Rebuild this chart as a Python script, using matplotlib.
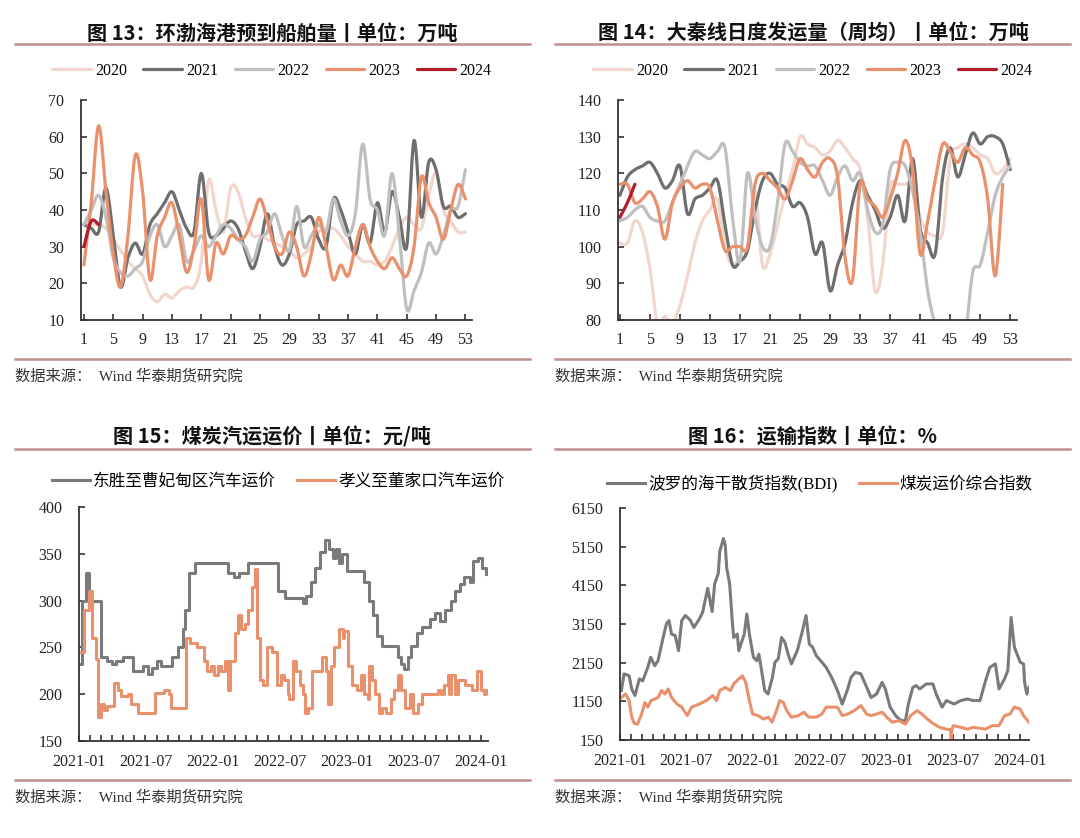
import numpy as np
import pandas as pd
import matplotlib
matplotlib.use('Agg')
import matplotlib.pyplot as plt
import matplotlib.dates as mdates
from matplotlib.lines import Line2D
from matplotlib.font_manager import FontProperties

W, H = 1080, 838

# ---------- 图13 环渤海港预到船舶量 (周) ----------
bh_2020 = [36, 36, 36, 35, 32, 29, 26, 24, 22, 17, 15, 17, 16, 18, 19, 19, 26, 48, 40, 34,
           46, 45, 38, 33, 33, 32, 31, 30, 29, 27, 28, 30, 34, 35, 35, 33, 30, 28, 26, 26,
           25, 26, 30, 35, 38, 36, 35, 44, 50, 40, 37, 34, 34]
bh_2021 = [36, 35, 34, 46, 33, 19, 27, 31, 28, 36, 39, 42, 45, 40, 35, 34, 50, 34, 33, 35,
           37, 35, 29, 24, 30, 39, 30, 25, 28, 36, 37, 38, 32, 30, 43, 40, 34, 28, 36, 31,
           42, 34, 45, 38, 30, 59, 38, 53, 51, 41, 41, 38, 39]
bh_2022 = [36, 40, 44, 38, 27, 23, 22, 24, 26, 33, 36, 30, 33, 36, 26, 29, 33, 30, 33, 36,
           35, 32, 30, 26, 32, 34, 39, 33, 29, 41, 30, 33, 36, 34, 43, 37, 33, 39, 58, 43,
           40, 33, 50, 33, 13, 18, 23, 31, 28, 33, 40, 41, 51]
bh_2023 = [25, 42, 63, 45, 28, 19, 33, 55, 45, 21, 33, 38, 42, 33, 23, 30, 43, 21, 31, 28,
           33, 32, 33, 38, 43, 37, 30, 28, 34, 30, 22, 28, 38, 30, 21, 25, 22, 30, 36, 30,
           26, 24, 27, 24, 22, 30, 49, 42, 38, 32, 40, 47, 43]
bh_2024 = [30, 37, 36]

# ---------- 图14 大秦线日度发运量 (周均) ----------
dq_2020 = [101, 101, 107, 104, 94, 79, 81, 79, 84, 92, 101, 107, 110, 113, 100, 95, 97, 99, 115, 95,
           98, 106, 114, 121, 130, 128, 127, 125, 126, 129, 127, 124, 121, 108, 88, 95, 116, 117, 117, 117,
           108, 104, 103, 104, 124, 127, 128, 127, 125, 124, 120, 121, 124]
dq_2021 = [114, 119, 121, 122, 123, 120, 116, 118, 122, 109, 113, 114, 116, 118, 106, 95, 96, 99, 110, 118,
           120, 117, 116, 111, 112, 108, 98, 101, 88, 95, 101, 112, 118, 114, 110, 105, 108, 114, 107, 124,
           105, 101, 98, 119, 127, 119, 125, 131, 128, 130, 130, 128, 121]
dq_2022 = [107, 108, 110, 111, 108, 107, 107, 112, 117, 122, 126, 125, 124, 126, 127, 108, 96, 120, 108, 100,
           100, 112, 128, 126, 123, 122, 122, 118, 114, 119, 122, 118, 120, 110, 104, 106, 121, 123, 122, 115,
           104, 88, 78, 65, 60, 64, 75, 93, 95, 104, 114, 119, 122]
dq_2023 = [117, 117, 112, 113, 115, 111, 102, 112, 116, 118, 116, 117, 116, 107, 99, 100, 100, 100, 117, 120,
           118, 116, 113, 118, 124, 121, 119, 123, 124, 119, 97, 91, 117, 113, 111, 108, 113, 120, 129, 121,
           98, 107, 118, 128, 126, 123, 127, 125, 123, 113, 92, 117]
dq_2024 = [108, 112, 117]

year_labels = ['2020', '2021', '2022', '2023', '2024']
year_colors = ['#f2d6cd', '#6e6e6e', '#bfbfbf', '#e8916c', '#b31b2e']

# ---------- 图15 煤炭汽运运价 (阶梯) ----------
ds_dates = ['2021-01-01', '2021-01-10', '2021-01-19', '2021-01-28', '2021-02-04', '2021-03-01', '2021-03-17',
            '2021-04-01', '2021-04-13', '2021-05-01', '2021-05-28', '2021-06-25', '2021-07-07', '2021-07-19',
            '2021-08-01', '2021-08-13', '2021-09-10', '2021-09-28', '2021-10-10', '2021-10-16', '2021-10-28',
            '2021-11-13', '2022-02-12', '2022-02-27', '2022-03-14', '2022-04-06', '2022-06-28', '2022-07-16',
            '2022-09-04', '2022-09-10', '2022-09-25', '2022-10-07', '2022-10-19', '2022-11-01', '2022-11-13',
            '2022-11-25', '2022-12-01', '2022-12-10', '2022-12-19', '2023-01-01', '2023-02-16', '2023-03-02',
            '2023-03-13', '2023-03-25', '2023-04-06', '2023-05-19', '2023-05-28', '2023-06-04', '2023-06-16',
            '2023-06-25', '2023-07-10', '2023-07-25', '2023-08-16', '2023-08-28', '2023-09-12', '2023-09-25',
            '2023-10-10', '2023-10-22', '2023-11-04', '2023-11-16', '2023-12-01', '2023-12-10', '2023-12-25',
            '2024-01-03', '2024-01-15']
ds_price = [232, 300, 330, 310, 300, 240, 235, 232, 235, 240, 225, 230, 222, 228, 235, 230, 240, 250, 270,
            290, 330, 340, 330, 325, 330, 340, 310, 303, 297, 305, 320, 335, 352, 365, 355, 345, 355, 340,
            350, 332, 320, 300, 285, 262, 252, 240, 232, 227, 240, 252, 265, 272, 280, 287, 278, 290, 300,
            310, 318, 325, 320, 342, 345, 335, 328]

xy_dates = ['2021-01-01', '2021-01-15', '2021-01-27', '2021-02-06', '2021-02-15', '2021-02-23', '2021-03-01',
            '2021-03-09', '2021-03-18', '2021-04-07', '2021-04-16', '2021-04-25', '2021-05-14', '2021-05-23',
            '2021-06-11', '2021-07-28', '2021-08-20', '2021-09-04', '2021-09-08', '2021-10-20', '2021-10-30',
            '2021-11-18', '2021-12-07', '2021-12-16', '2021-12-26', '2022-01-05', '2022-01-14', '2022-01-23',
            '2022-02-02', '2022-02-11', '2022-02-16', '2022-03-01', '2022-03-09', '2022-03-18', '2022-03-28',
            '2022-04-07', '2022-04-16', '2022-04-25', '2022-04-30', '2022-05-09', '2022-05-18', '2022-05-28',
            '2022-06-11', '2022-06-25', '2022-07-04', '2022-07-14', '2022-07-23', '2022-07-28', '2022-08-06',
            '2022-08-16', '2022-08-25', '2022-09-04', '2022-09-09', '2022-09-18', '2022-09-27', '2022-10-25',
            '2022-11-04', '2022-11-09', '2022-11-18', '2022-11-27', '2022-12-11', '2022-12-20', '2022-12-25',
            '2023-01-05', '2023-01-14', '2023-01-28', '2023-02-07', '2023-02-16', '2023-02-26', '2023-03-01',
            '2023-03-10', '2023-03-19', '2023-03-28', '2023-04-07', '2023-04-16', '2023-04-30', '2023-05-09',
            '2023-05-19', '2023-05-28', '2023-06-07', '2023-06-21', '2023-06-30', '2023-07-14', '2023-07-23',
            '2023-09-05', '2023-09-14', '2023-09-23', '2023-10-02', '2023-10-07', '2023-10-12', '2023-10-21',
            '2023-10-31', '2023-11-18', '2023-12-07', '2023-12-21', '2023-12-31', '2024-01-09', '2024-01-15']
xy_price = [245, 290, 310, 260, 238, 176, 190, 183, 187, 212, 205, 198, 200, 190, 180, 201, 205, 200, 185,
            260, 255, 250, 235, 225, 230, 220, 230, 225, 235, 205, 235, 265, 285, 270, 275, 290, 315, 334,
            260, 215, 210, 250, 245, 210, 220, 215, 200, 195, 235, 225, 210, 200, 180, 185, 225, 240, 225,
            190, 230, 250, 270, 260, 268, 230, 210, 205, 220, 200, 195, 230, 215, 200, 180, 185, 180, 195,
            205, 220, 205, 185, 200, 180, 190, 200, 205, 200, 210, 220, 200, 220, 200, 215, 210, 205, 225,
            205, 200, 205]

# ---------- 图16 运输指数 ----------
bdi_dates = ['2021-01-05', '2021-01-12', '2021-01-26', '2021-02-02', '2021-02-11', '2021-02-23', '2021-03-04',
             '2021-03-18', '2021-03-26', '2021-04-06', '2021-04-15', '2021-04-29', '2021-05-08', '2021-05-15',
             '2021-05-22', '2021-06-01', '2021-06-10', '2021-06-19', '2021-06-29', '2021-07-13', '2021-07-22',
             '2021-08-06', '2021-08-15', '2021-08-29', '2021-09-10', '2021-09-17', '2021-09-27', '2021-10-01',
             '2021-10-11', '2021-10-16', '2021-10-20', '2021-10-28', '2021-11-04', '2021-11-08', '2021-11-18',
             '2021-11-22', '2021-12-07', '2021-12-14', '2021-12-21', '2022-01-01', '2022-01-10', '2022-01-16',
             '2022-01-22', '2022-02-01', '2022-02-10', '2022-02-22', '2022-03-01', '2022-03-10', '2022-03-19',
             '2022-03-28', '2022-04-06', '2022-04-15', '2022-05-01', '2022-05-13', '2022-05-25', '2022-06-03',
             '2022-06-12', '2022-06-22', '2022-07-04', '2022-07-19', '2022-08-03', '2022-08-19', '2022-09-01',
             '2022-09-16', '2022-09-25', '2022-10-07', '2022-10-22', '2022-11-07', '2022-11-19', '2022-12-04',
             '2022-12-19', '2022-12-28', '2023-01-10', '2023-01-25', '2023-02-09', '2023-02-21', '2023-03-01',
             '2023-03-13', '2023-03-22', '2023-04-01', '2023-04-19', '2023-05-07', '2023-05-16', '2023-06-01',
             '2023-06-13', '2023-07-04', '2023-07-22', '2023-08-10', '2023-08-25', '2023-09-13', '2023-09-28',
             '2023-10-10', '2023-10-25', '2023-11-04', '2023-11-19', '2023-11-28', '2023-12-07', '2023-12-16',
             '2024-01-01', '2024-01-10', '2024-01-13', '2024-01-19', '2024-01-25']
bdi = [1430, 1860, 1810, 1470, 1300, 1730, 1680, 2030, 2290, 2070, 2200, 2800, 3150, 3240, 2890, 2850,
       2460, 3240, 3370, 3240, 3060, 3280, 3450, 4070, 3470, 4190, 4460, 5030, 5360, 5190, 4590, 4190,
       3250, 2800, 2890, 2460, 2890, 3410, 2890, 2290, 2200, 2370, 2030, 1430, 1340, 1770, 2160, 2250,
       2800, 2680, 2370, 2120, 2460, 2890, 3370, 2630, 2550, 2330, 2200, 2030, 1770, 1430, 1080, 1470,
       1770, 1900, 1860, 1510, 1250, 1340, 1640, 1470, 1000, 780, 650, 650, 1080, 1510, 1560, 1470,
       1600, 1600, 1340, 1000, 1170, 1080, 1170, 1210, 1170, 1170, 1680, 2030, 2120, 1470, 1730, 1940,
       3320, 2550, 2160, 2120, 1640, 1340, 1510]

coal_dates = ['2021-01-05', '2021-01-16', '2021-01-26', '2021-02-02', '2021-02-09', '2021-02-18', '2021-03-01',
              '2021-03-10', '2021-03-18', '2021-03-27', '2021-04-15', '2021-04-25', '2021-05-04', '2021-05-13',
              '2021-05-22', '2021-06-06', '2021-06-19', '2021-07-04', '2021-07-16', '2021-08-06', '2021-08-25',
              '2021-09-12', '2021-09-22', '2021-10-01', '2021-10-16', '2021-10-30', '2021-11-08', '2021-11-22',
              '2021-12-02', '2021-12-11', '2021-12-21', '2021-12-30', '2022-01-14', '2022-01-28', '2022-02-11',
              '2022-02-21', '2022-03-05', '2022-03-14', '2022-03-24', '2022-04-02', '2022-04-15', '2022-05-04',
              '2022-05-19', '2022-06-02', '2022-06-22', '2022-07-07', '2022-07-19', '2022-08-03', '2022-08-19',
              '2022-09-01', '2022-09-16', '2022-10-04', '2022-10-22', '2022-11-07', '2022-11-19', '2022-12-04',
              '2022-12-19', '2023-01-01', '2023-01-16', '2023-02-03', '2023-02-21', '2023-03-07', '2023-03-25',
              '2023-04-07', '2023-04-22', '2023-05-10', '2023-05-25', '2023-06-13', '2023-06-24', '2023-06-26',
              '2023-06-28', '2023-07-02', '2023-07-22', '2023-08-10', '2023-08-25', '2023-09-28', '2023-10-16',
              '2023-11-04', '2023-11-19', '2023-12-04', '2023-12-16', '2024-01-01', '2024-01-10', '2024-01-25']
coal = [1250, 1340, 1170, 740, 580, 560, 820, 1120, 1000, 1170, 1250, 1430, 1340, 1470, 1250, 1080, 1000,
        780, 1000, 1080, 1170, 1300, 1170, 1430, 1510, 1430, 1600, 1730, 1810, 1640, 1170, 820, 780, 690,
        740, 610, 910, 1170, 1120, 910, 740, 780, 870, 740, 740, 820, 1000, 1000, 1000, 780, 820, 910,
        1040, 820, 780, 820, 870, 740, 610, 650, 560, 780, 910, 820, 690, 560, 480, 430, 420, 170, 420,
        520, 480, 430, 480, 430, 520, 520, 780, 820, 1000, 950, 780, 610]

# ---------- 样式 ----------
RULE = '#bf8f8c'
AXC = '#333333'
serif = FontProperties(family='Liberation Serif', size=11.5)
mixed = ['Liberation Serif', 'Noto Sans CJK SC']


def box(x0, y0, x1, y1):
    return [x0 / W, 1 - y1 / H, (x1 - x0) / W, (y1 - y0) / H]


def smooth(x, y, n=10):
    # Catmull-Rom, 仿Excel平滑线
    P = np.column_stack([np.asarray(x, float), np.asarray(y, float)])
    P = np.vstack([P[0], P, P[-1]])
    t = np.linspace(0, 1, n, endpoint=False)[:, None]
    segs = []
    for i in range(1, len(P) - 2):
        p0, p1, p2, p3 = P[i - 1], P[i], P[i + 1], P[i + 2]
        segs.append(0.5 * (2 * p1 + (-p0 + p2) * t + (2 * p0 - 5 * p1 + 4 * p2 - p3) * t ** 2
                           + (-p0 + 3 * p1 - 3 * p2 + p3) * t ** 3))
    segs.append(P[-2][None, :])
    S = np.vstack(segs)
    return S[:, 0], S[:, 1]


def frame(ax):
    for s in ['top', 'right']:
        ax.spines[s].set_visible(False)
    for s in ['left', 'bottom']:
        ax.spines[s].set_color(AXC)
        ax.spines[s].set_linewidth(1.3)
    ax.tick_params(which='both', direction='in', length=4, width=1.2, color=AXC,
                   labelsize=11.5, labelcolor='#222222')
    ax.tick_params(axis='y', pad=12)
    ax.tick_params(axis='x', pad=9)
    for lab in ax.get_xticklabels() + ax.get_yticklabels():
        lab.set_fontfamily('Liberation Serif')


def header(cx, ty, rule_y, text, x0, x1):
    fig.text(cx / W, 1 - ty / H, text, ha='center', va='center', fontsize=14.5,
             fontweight='bold', family='Noto Sans CJK SC', color='#111111')
    fig.add_artist(Line2D([x0 / W, x1 / W], [1 - rule_y / H] * 2, color=RULE, lw=1.8))


def footer(rule_y, src_y, x0, x1):
    fig.add_artist(Line2D([x0 / W, x1 / W], [1 - rule_y / H] * 2, color=RULE, lw=1.8))
    fig.text(x0 / W, 1 - src_y / H, '数据来源：  Wind 华泰期货研究院', ha='left', va='center',
             fontsize=11, family=mixed, color='#333333')


fig = plt.figure(figsize=(W / 100, H / 100), dpi=100)

# ---------- 图13 ----------
ax = fig.add_axes(box(81, 100, 472, 320))
for vals, lab, c in zip([bh_2020, bh_2021, bh_2022, bh_2023, bh_2024], year_labels, year_colors):
    wk = np.arange(1, len(vals) + 1)
    sx, sy = smooth(wk, vals)
    ax.plot(sx, sy, color=c, lw=2.3, label=lab, solid_capstyle='round')
ax.set_xlim(0.6, 53.9)
ax.set_ylim(10, 70)
ax.set_xticks(np.arange(1, 54, 4))
ax.set_yticks(np.arange(10, 71, 10))
frame(ax)
ax.legend(loc='center', bbox_to_anchor=(272 / W, 1 - 71 / H), bbox_transform=fig.transFigure,
          ncol=5, frameon=False, prop=serif, handlelength=2.4, handletextpad=0.3,
          columnspacing=1.0)
header(272, 33, 44, '图 13：环渤海港预到船舶量丨单位：万吨', 15, 530)
footer(359, 376, 15, 530)

# ---------- 图14 ----------
ax = fig.add_axes(box(618, 100, 1017, 320))
for vals, lab, c in zip([dq_2020, dq_2021, dq_2022, dq_2023, dq_2024], year_labels, year_colors):
    wk = np.arange(1, len(vals) + 1)
    sx, sy = smooth(wk, vals)
    ax.plot(sx, sy, color=c, lw=2.3, label=lab, solid_capstyle='round')
ax.set_xlim(0.75, 53.9)
ax.set_ylim(80, 140)
ax.set_xticks(np.arange(1, 54, 4))
ax.set_yticks(np.arange(80, 141, 10))
frame(ax)
ax.legend(loc='center', bbox_to_anchor=(813 / W, 1 - 71 / H), bbox_transform=fig.transFigure,
          ncol=5, frameon=False, prop=serif, handlelength=2.4, handletextpad=0.3,
          columnspacing=1.0)
header(813, 33, 44, '图 14：大秦线日度发运量（周均）丨单位：万吨', 555, 1070)
footer(359, 376, 555, 1070)

# ---------- 图15 ----------
ax = fig.add_axes(box(79, 507, 488, 741))
ax.step(pd.to_datetime(ds_dates), ds_price, where='post', color='#7a7a7a', lw=2.2,
        label='东胜至曹妃甸区汽车运价')
ax.step(pd.to_datetime(xy_dates), xy_price, where='post', color='#e8916c', lw=2.2,
        label='孝义至董家口汽车运价')
ax.set_xlim(pd.Timestamp('2021-01-01'), pd.Timestamp('2024-01-20'))
ax.set_ylim(150, 400)
ax.set_yticks(np.arange(150, 401, 50))
ax.xaxis.set_major_locator(mdates.MonthLocator(bymonth=[1, 7]))
ax.xaxis.set_minor_locator(mdates.MonthLocator())
ax.xaxis.set_major_formatter(mdates.DateFormatter('%Y-%m'))
frame(ax)
ax.legend(loc='center', bbox_to_anchor=(278 / W, 1 - 482 / H), bbox_transform=fig.transFigure,
          ncol=2, frameon=False, prop=FontProperties(family=mixed, size=12),
          handlelength=2.3, handletextpad=0.15, columnspacing=1.3)
header(272, 437, 449, '图 15：煤炭汽运运价丨单位：元/吨', 15, 530)
footer(780, 797, 15, 530)

# ---------- 图16 ----------
ax = fig.add_axes(box(620, 508, 1029, 740))
ax.plot(pd.to_datetime(bdi_dates), bdi, color='#7a7a7a', lw=2.2, label='波罗的海干散货指数(BDI)')
ax.plot(pd.to_datetime(coal_dates), coal, color='#e8916c', lw=2.2, label='煤炭运价综合指数')
ax.set_xlim(pd.Timestamp('2021-01-01'), pd.Timestamp('2024-01-25'))
ax.set_ylim(150, 6150)
ax.set_yticks(np.arange(150, 6151, 1000))
ax.xaxis.set_major_locator(mdates.MonthLocator(bymonth=[1, 7]))
ax.xaxis.set_minor_locator(mdates.MonthLocator())
ax.xaxis.set_major_formatter(mdates.DateFormatter('%Y-%m'))
frame(ax)
ax.legend(loc='center', bbox_to_anchor=(820 / W, 1 - 484 / H), bbox_transform=fig.transFigure,
          ncol=2, frameon=False, prop=FontProperties(family=mixed, size=12),
          handlelength=2.3, handletextpad=0.15, columnspacing=1.3)
header(813, 437, 449, '图 16：运输指数丨单位：%', 555, 1070)
footer(780, 797, 555, 1070)

fig.savefig('out.png', dpi=100, facecolor='white')
